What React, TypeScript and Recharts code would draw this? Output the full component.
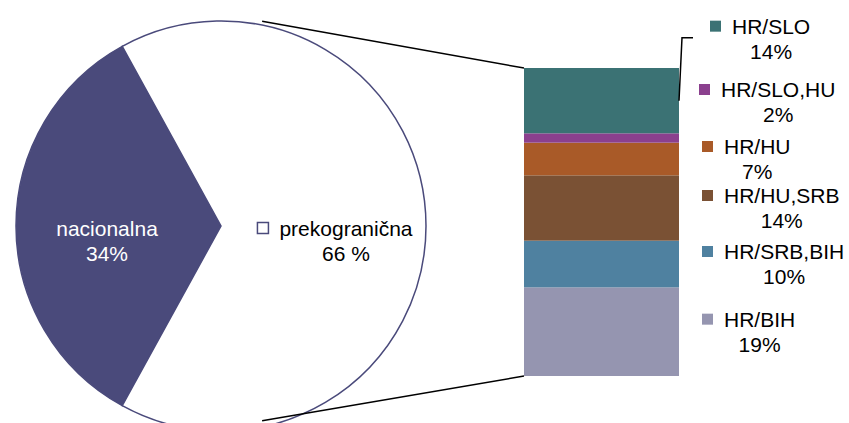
import React from 'react';
import { PieChart, Pie, Cell, BarChart, Bar, XAxis, YAxis } from 'recharts';

const W = 849;
const H = 423;
const FONT = '"Liberation Sans", Arial, sans-serif';
const FS = 21;
const LINE_GAP = 25;

const pieNames = ['nacionalna', 'prekogranična'];
const pieValues = [34, 66];
const pieLabels = ['34%', '66 %'];
const pieColors = ['#4A4A7B', '#FFFFFF'];

const barNames = ['HR/SLO', 'HR/SLO,HU', 'HR/HU', 'HR/HU,SRB', 'HR/SRB,BIH', 'HR/BIH'];
const barValues = [14, 2, 7, 14, 10, 19];
const barLabels = ['14%', '2%', '7%', '14%', '10%', '19%'];
const barColors = ['#3B7274', '#8B408E', '#A95A28', '#7A5134', '#4F81A0', '#9595B0'];

// Excel nudged the two top labels upwards so they don't collide
const LABEL_DX = [8, -3, 0, 0, 0, 0];
const LABEL_DY = [-62, -36, 0, 0, 0, 0];

const PIE = { cx: 216, cy: 221, r: 205 };
const BAR_MARGIN = { top: 68, right: 170, bottom: 47, left: 524 };
const CONNECT_ANGLE = 77; // degrees, where the connector lines leave the pie
const OUTLINE = '#4A4A7B';

const pieData = pieNames.map((name, i) => ({ name, value: pieValues[i] }));
const barRow: Record<string, number | string> = { name: 'prekogranična' };
barNames.forEach((n, i) => (barRow[n] = barValues[i]));
const barData = [barRow];

let ctx: CanvasRenderingContext2D | null = null;
const textWidth = (s: string) => {
    if (!ctx) ctx = document.createElement('canvas').getContext('2d');
    if (!ctx) return s.length * FS * 0.55;
    ctx.font = `${FS}px "Liberation Sans"`;
    return ctx.measureText(s).width;
};

// marker + name on line 1, percentage centred under the name
const KeyLabel = ({ x, y, name, pct, color, marker, textColor, markerStroke }: any) => {
    const tx = marker ? x + 22 : x;
    const tw = textWidth(name);
    return (
        <g fontFamily={FONT} fontSize={FS} fill={textColor}>
            {marker && (
                <rect x={x} y={y - 5.5} width={11} height={11} fill={color} stroke={markerStroke || 'none'} strokeWidth={1.5} />
            )}
            <text x={tx} y={y + 7.5} fill={textColor}>{name}</text>
            <text x={tx + tw / 2} y={y + LINE_GAP + 7.5} textAnchor="middle" fill={textColor}>{pct}</text>
        </g>
    );
};

const piePoint = (deg: number) => ({
    x: PIE.cx + PIE.r * Math.cos((deg * Math.PI) / 180),
    y: PIE.cy - PIE.r * Math.sin((deg * Math.PI) / 180),
});

const renderPieLabel = (p: any) => {
    const RAD = Math.PI / 180;
    const rad = 0.556 * p.outerRadius;
    const bx = p.cx + rad * Math.cos(-p.midAngle * RAD);
    const by = p.cy + rad * Math.sin(-p.midAngle * RAD) + 2;
    const i = p.index;
    const name = pieNames[i];
    const withMarker = i === 1;
    const blockW = textWidth(name) + (withMarker ? 22 : 0);
    return (
        <KeyLabel
            key={name}
            x={bx - blockW / 2}
            y={by}
            name={name}
            pct={pieLabels[i]}
            color={pieColors[i]}
            marker={withMarker}
            markerStroke={OUTLINE}
            textColor={i === 0 ? '#FFFFFF' : '#000000'}
        />
    );
};

const makeShape = (i: number) => (p: any) => {
    const { x, y, width, height } = p;
    const right = x + width;
    const segMid = y + height / 2;
    const lab = segMid + LABEL_DY[i];
    const top = piePoint(CONNECT_ANGLE);
    const bottom = piePoint(-CONNECT_ANGLE);
    return (
        <g>
            <rect x={x} y={y} width={width} height={height} fill={barColors[i]} />
            {i === 0 && <line x1={top.x} y1={top.y} x2={x} y2={y} stroke="#000" strokeWidth={1.5} />}
            {i === barNames.length - 1 && (
                <line x1={bottom.x} y1={bottom.y} x2={x} y2={y + height} stroke="#000" strokeWidth={1.5} />
            )}
            {i === 0 && (
                <polyline
                    points={`${right},${segMid} ${right + 3},${lab - 1} ${right + 14},${lab - 1}`}
                    fill="none"
                    stroke="#000"
                    strokeWidth={1.5}
                />
            )}
            <KeyLabel
                x={right + 23 + LABEL_DX[i]}
                y={lab - LINE_GAP / 2}
                name={barNames[i]}
                pct={barLabels[i]}
                color={barColors[i]}
                marker
                textColor="#000000"
            />
        </g>
    );
};

const startAngle = 180 - (pieValues[0] / 100) * 180;

export default function App() {
    const order = barNames.map((_, i) => i).reverse(); // bottom of the stack first
    return (
        <div style={{ position: 'absolute', left: 0, top: 0, width: W, height: H, background: '#fff' }}>
            <div style={{ position: 'absolute', left: 0, top: 0 }}>
                <PieChart width={W} height={H}>
                    <Pie
                        data={pieData}
                        dataKey="value"
                        cx={PIE.cx}
                        cy={PIE.cy}
                        outerRadius={PIE.r}
                        startAngle={startAngle}
                        endAngle={startAngle + 360}
                        label={renderPieLabel}
                        labelLine={false}
                        isAnimationActive={false}
                    >
                        {pieData.map((d, i) => (
                            <Cell key={d.name} fill={pieColors[i]} stroke={OUTLINE} strokeWidth={1.5} />
                        ))}
                    </Pie>
                </PieChart>
            </div>
            <div style={{ position: 'absolute', left: 0, top: 0 }}>
                <BarChart width={W} height={H} data={barData} margin={BAR_MARGIN} barCategoryGap={0}>
                    <XAxis dataKey="name" hide />
                    <YAxis hide domain={[0, 66]} />
                    {order.map((i) => (
                        <Bar
                            key={barNames[i]}
                            dataKey={barNames[i]}
                            stackId="s"
                            fill={barColors[i]}
                            shape={makeShape(i)}
                            isAnimationActive={false}
                        />
                    ))}
                </BarChart>
            </div>
        </div>
    );
}
